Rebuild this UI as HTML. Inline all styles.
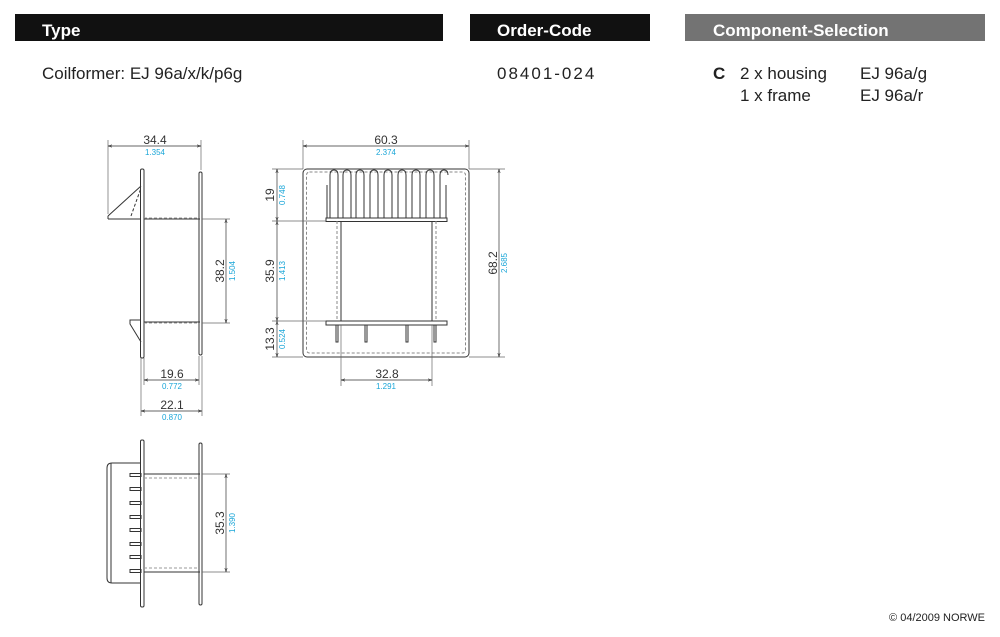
<!DOCTYPE html>
<html><head><style>
body{margin:0;background:#fff;}
svg{display:block;font-family:"Liberation Sans",sans-serif;}
</style></head><body>
<svg width="1000" height="637" viewBox="0 0 1000 637" xmlns="http://www.w3.org/2000/svg">
<defs>
<marker id="a" viewBox="0 0 10 10" refX="10" refY="5" markerWidth="6" markerHeight="6" orient="auto-start-reverse"><path d="M0,2 L10,5 L0,8" fill="none" stroke="#333" stroke-width="1.2"/></marker>
</defs>
<rect x="15" y="14" width="428" height="27" fill="#111"/>
<text x="42" y="36" fill="#fff" font-size="17" font-weight="bold">Type</text>
<rect x="470" y="14" width="180" height="27" fill="#111"/>
<text x="497" y="36" fill="#fff" font-size="17" font-weight="bold">Order-Code</text>
<rect x="685" y="14" width="300" height="27" fill="#737373"/>
<text x="713" y="36" fill="#fff" font-size="17" font-weight="bold">Component-Selection</text>
<text x="42" y="79" font-size="17" fill="#222">Coilformer:  EJ 96a/x/k/p6g</text>
<text x="497" y="79" font-size="17" fill="#222" letter-spacing="2">08401-024</text>
<text x="713" y="79" font-size="17" font-weight="bold" fill="#222">C</text>
<text x="740" y="79" font-size="17" fill="#222">2 x housing</text>
<text x="860" y="79" font-size="17" fill="#222">EJ 96a/g</text>
<text x="740" y="101" font-size="17" fill="#222">1 x frame</text>
<text x="860" y="101" font-size="17" fill="#222">EJ 96a/r</text>
<text x="985" y="621" font-size="11" fill="#222" text-anchor="end">© 04/2009 NORWE</text>

<g stroke="#333" stroke-width="1" fill="none">
<rect x="140.5" y="169" width="3.5" height="189" rx="1.5"/>
<rect x="199" y="172" width="3" height="183" rx="1.5"/>
<line x1="108" y1="219" x2="141" y2="219"/>
<line x1="108" y1="216" x2="108" y2="219"/>
<line x1="108" y1="216" x2="141" y2="186"/>
<line x1="131" y1="216" x2="141" y2="188" stroke-dasharray="3,2"/>
<line x1="144" y1="219" x2="200" y2="219"/>
<line x1="144" y1="322" x2="200" y2="322"/>
<line x1="144" y1="218" x2="200" y2="218" stroke-dasharray="3,2" stroke="#999"/>
<line x1="144" y1="323" x2="200" y2="323" stroke-dasharray="3,2" stroke="#999"/>
<path d="M141,320 L130,320 L130,324 L141,342"/>
<g stroke="#666" stroke-width="0.7">
<line x1="108" y1="140" x2="108" y2="214"/><line x1="201" y1="140" x2="201" y2="170"/>
<line x1="202" y1="219" x2="230" y2="219"/><line x1="202" y1="323" x2="230" y2="323"/>
<line x1="144" y1="358" x2="144" y2="385"/><line x1="199" y1="356" x2="199" y2="385"/>
<line x1="141" y1="358" x2="141" y2="416"/><line x1="202" y1="356" x2="202" y2="416"/>
</g>
<g stroke="#333" stroke-width="0.7">
<line x1="108" y1="146" x2="201" y2="146" marker-start="url(#a)" marker-end="url(#a)"/>
<line x1="226" y1="219" x2="226" y2="323" marker-start="url(#a)" marker-end="url(#a)"/>
<line x1="144" y1="380" x2="199" y2="380" marker-start="url(#a)" marker-end="url(#a)"/>
<line x1="141" y1="411" x2="202" y2="411" marker-start="url(#a)" marker-end="url(#a)"/>
</g>

<rect x="303" y="169" width="166" height="188" rx="4"/>
<rect x="306.5" y="172" width="159" height="181" rx="3" stroke-dasharray="3,2" stroke="#888"/>
<rect x="326" y="218" width="121" height="3.5"/>
<rect x="326" y="321" width="121" height="4"/>
<path d="M330,218 V175 Q330,170 334,170 Q338,170 338,175 V208 M343,218 V175 Q343,170 347,170 Q351,170 351,175 V208 M356,218 V175 Q356,170 360,170 Q364,170 364,175 V208 M370,218 V175 Q370,170 374,170 Q378,170 378,175 V208 M384,218 V175 Q384,170 388,170 Q392,170 392,175 V208 M398,218 V175 Q398,170 402,170 Q406,170 406,175 V208 M412,218 V175 Q412,170 416,170 Q420,170 420,175 V208 M426,218 V175 Q426,170 430,170 Q434,170 434,175 V208 M440,218 V175 Q440,170 444,170 Q448,170 448,175"/>
<path d="M327,218 V185 M338,218 V200 M351,218 V200 M364,218 V200 M378,218 V200 M392,218 V200 M406,218 V200 M420,218 V200 M434,218 V200 M446,218 V185"/>
<line x1="341" y1="221" x2="341" y2="321"/>
<line x1="432" y1="221" x2="432" y2="321"/>
<line x1="337" y1="221" x2="337" y2="321" stroke-dasharray="3,2" stroke="#888"/>
<line x1="436" y1="221" x2="436" y2="321" stroke-dasharray="3,2" stroke="#888"/>
<rect x="336" y="325" width="2" height="17"/><rect x="365" y="325" width="2" height="17"/>
<rect x="406" y="325" width="2" height="17"/><rect x="434" y="325" width="2" height="17"/>
<g stroke="#666" stroke-width="0.7">
<line x1="303" y1="140" x2="303" y2="169"/><line x1="469" y1="140" x2="469" y2="169"/>
<line x1="272" y1="169" x2="303" y2="169"/><line x1="272" y1="221" x2="326" y2="221"/>
<line x1="272" y1="321" x2="326" y2="321"/><line x1="272" y1="357" x2="303" y2="357"/>
<line x1="469" y1="169" x2="505" y2="169"/><line x1="469" y1="357" x2="505" y2="357"/>
<line x1="341" y1="325" x2="341" y2="386"/><line x1="432" y1="325" x2="432" y2="386"/>
</g>
<g stroke="#333" stroke-width="0.7">
<line x1="303" y1="146" x2="469" y2="146" marker-start="url(#a)" marker-end="url(#a)"/>
<line x1="277" y1="169" x2="277" y2="221" marker-start="url(#a)" marker-end="url(#a)"/>
<line x1="277" y1="221" x2="277" y2="321" marker-start="url(#a)" marker-end="url(#a)"/>
<line x1="277" y1="321" x2="277" y2="357" marker-start="url(#a)" marker-end="url(#a)"/>
<line x1="499" y1="169" x2="499" y2="357" marker-start="url(#a)" marker-end="url(#a)"/>
<line x1="341" y1="380" x2="432" y2="380" marker-start="url(#a)" marker-end="url(#a)"/>
</g>

<rect x="140.5" y="440" width="3.5" height="167" rx="1.5"/>
<rect x="199" y="443" width="3" height="162" rx="1.5"/>
<path d="M140,463 H112 Q107,463 107,468 V578 Q107,583 112,583 H140"/>
<line x1="111" y1="463" x2="111" y2="583"/>
<line x1="144" y1="474" x2="200" y2="474"/>
<line x1="144" y1="572" x2="200" y2="572"/>
<line x1="144" y1="478" x2="200" y2="478" stroke-dasharray="3,2" stroke="#999"/>
<line x1="144" y1="568" x2="200" y2="568" stroke-dasharray="3,2" stroke="#999"/>
<g>
<rect x="130" y="473.5" width="11" height="3"/><rect x="130" y="487.5" width="11" height="3"/>
<rect x="130" y="501.5" width="11" height="3"/><rect x="130" y="515.5" width="11" height="3"/>
<rect x="130" y="528.5" width="11" height="3"/><rect x="130" y="542.5" width="11" height="3"/>
<rect x="130" y="555.5" width="11" height="3"/><rect x="130" y="569.5" width="11" height="3"/>
</g>
<g stroke="#666" stroke-width="0.7">
<line x1="202" y1="474" x2="230" y2="474"/><line x1="202" y1="572" x2="230" y2="572"/>
</g>
<line x1="226" y1="474" x2="226" y2="572" stroke-width="0.7" marker-start="url(#a)" marker-end="url(#a)"/>
</g>

<g font-size="12" fill="#333" text-anchor="middle">
<text x="155" y="144">34.4</text>
<text x="172" y="378">19.6</text>
<text x="172" y="409">22.1</text>
<text x="386" y="144">60.3</text>
<text x="387" y="378">32.8</text>
<text transform="translate(224,271) rotate(-90)">38.2</text>
<text transform="translate(274,195) rotate(-90)">19</text>
<text transform="translate(274,271) rotate(-90)">35.9</text>
<text transform="translate(274,339) rotate(-90)">13.3</text>
<text transform="translate(497,263) rotate(-90)">68.2</text>
<text transform="translate(224,523) rotate(-90)">35.3</text>
</g>
<g font-size="8" fill="#1aa6d8" text-anchor="middle">
<text x="155" y="155">1.354</text>
<text x="172" y="389">0.772</text>
<text x="172" y="420">0.870</text>
<text x="386" y="155">2.374</text>
<text x="386" y="389">1.291</text>
<text transform="translate(235,271) rotate(-90)">1.504</text>
<text transform="translate(285,195) rotate(-90)">0.748</text>
<text transform="translate(285,271) rotate(-90)">1.413</text>
<text transform="translate(285,339) rotate(-90)">0.524</text>
<text transform="translate(507,263) rotate(-90)">2.685</text>
<text transform="translate(235,523) rotate(-90)">1.390</text>
</g>
</svg>
</body></html>
